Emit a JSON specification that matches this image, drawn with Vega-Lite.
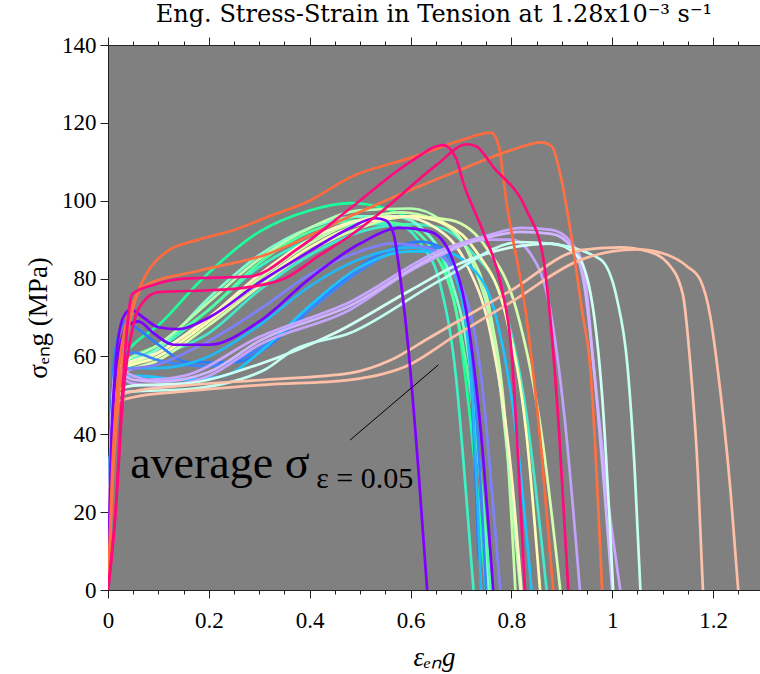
{
"$schema": "https://vega.github.io/schema/vega-lite/v6.json",
"width": 652, "height": 545,
"autosize": {"type": "none"},
"padding": {"left": 108, "top": 45, "right": 0, "bottom": 84},
"background": "white",
"view": {"fill": "#808080", "stroke": null},
"title": {"text": "Eng. Stress-Strain in Tension at 1.28x10⁻³ s⁻¹", "font": "DejaVu Serif", "fontSize": 24, "fontWeight": "normal", "color": "black", "anchor": "middle", "offset": 7},
"config": {"axis": {"labelFont": "Liberation Serif", "labelFontSize": 23, "labelColor": "black", "titleFont": "Liberation Serif", "titleColor": "black", "titleFontWeight": "normal", "domainColor": "#222", "tickColor": "#222", "grid": false, "domainWidth": 1, "tickWidth": 1}},
"datasets": {
"curves": [
{"c":"g1","x":0,"y":0},{"c":"g1","x":0.006,"y":40},{"c":"g1","x":0.02,"y":58},{"c":"g1","x":0.05,"y":63},{"c":"g1","x":0.1,"y":68},{"c":"g1","x":0.18,"y":79},{"c":"g1","x":0.3,"y":92},{"c":"g1","x":0.4,"y":97.5},{"c":"g1","x":0.48,"y":99.4},{"c":"g1","x":0.55,"y":98},{"c":"g1","x":0.62,"y":93},{"c":"g1","x":0.66,"y":86},{"c":"g1","x":0.69,"y":72},{"c":"g1","x":0.72,"y":42},{"c":"g1","x":0.75,"y":0},
{"c":"t1","x":0,"y":0},{"c":"t1","x":0.006,"y":40},{"c":"t1","x":0.02,"y":57},{"c":"t1","x":0.1,"y":62},{"c":"t1","x":0.2,"y":72},{"c":"t1","x":0.3,"y":83},{"c":"t1","x":0.4,"y":90},{"c":"t1","x":0.5,"y":94},{"c":"t1","x":0.57,"y":94},{"c":"t1","x":0.62,"y":89},{"c":"t1","x":0.66,"y":78},{"c":"t1","x":0.69,"y":55},{"c":"t1","x":0.71,"y":25},{"c":"t1","x":0.725,"y":0},
{"c":"t2","x":0,"y":0},{"c":"t2","x":0.006,"y":40},{"c":"t2","x":0.02,"y":56},{"c":"t2","x":0.1,"y":60},{"c":"t2","x":0.2,"y":66},{"c":"t2","x":0.3,"y":77},{"c":"t2","x":0.4,"y":86},{"c":"t2","x":0.5,"y":92},{"c":"t2","x":0.6,"y":94},{"c":"t2","x":0.66,"y":93},{"c":"t2","x":0.72,"y":87},{"c":"t2","x":0.78,"y":75},{"c":"t2","x":0.83,"y":45},{"c":"t2","x":0.87,"y":0},
{"c":"a1","x":0,"y":0},{"c":"a1","x":0.006,"y":40},{"c":"a1","x":0.02,"y":56},{"c":"a1","x":0.1,"y":62},{"c":"a1","x":0.2,"y":75},{"c":"a1","x":0.3,"y":86},{"c":"a1","x":0.4,"y":93},{"c":"a1","x":0.5,"y":96},{"c":"a1","x":0.57,"y":96},{"c":"a1","x":0.63,"y":92},{"c":"a1","x":0.68,"y":80},{"c":"a1","x":0.72,"y":55},{"c":"a1","x":0.755,"y":0},
{"c":"g2","x":0,"y":0},{"c":"g2","x":0.006,"y":40},{"c":"g2","x":0.02,"y":57},{"c":"g2","x":0.1,"y":63},{"c":"g2","x":0.2,"y":72},{"c":"g2","x":0.3,"y":84},{"c":"g2","x":0.4,"y":92},{"c":"g2","x":0.5,"y":95},{"c":"g2","x":0.58,"y":94},{"c":"g2","x":0.64,"y":88},{"c":"g2","x":0.69,"y":72},{"c":"g2","x":0.73,"y":40},{"c":"g2","x":0.76,"y":0},
{"c":"lg1","x":0,"y":0},{"c":"lg1","x":0.006,"y":40},{"c":"lg1","x":0.02,"y":56},{"c":"lg1","x":0.1,"y":61},{"c":"lg1","x":0.2,"y":70},{"c":"lg1","x":0.3,"y":80},{"c":"lg1","x":0.4,"y":89},{"c":"lg1","x":0.5,"y":95},{"c":"lg1","x":0.58,"y":97},{"c":"lg1","x":0.65,"y":95},{"c":"lg1","x":0.71,"y":88},{"c":"lg1","x":0.76,"y":70},{"c":"lg1","x":0.79,"y":40},{"c":"lg1","x":0.808,"y":0},
{"c":"lg2","x":0,"y":0},{"c":"lg2","x":0.006,"y":40},{"c":"lg2","x":0.02,"y":57},{"c":"lg2","x":0.1,"y":63},{"c":"lg2","x":0.2,"y":74},{"c":"lg2","x":0.3,"y":85},{"c":"lg2","x":0.4,"y":93},{"c":"lg2","x":0.5,"y":97.5},{"c":"lg2","x":0.6,"y":98},{"c":"lg2","x":0.66,"y":95},{"c":"lg2","x":0.72,"y":85},{"c":"lg2","x":0.77,"y":60},{"c":"lg2","x":0.8,"y":25},{"c":"lg2","x":0.818,"y":0},
{"c":"lg3","x":0,"y":0},{"c":"lg3","x":0.006,"y":40},{"c":"lg3","x":0.02,"y":55},{"c":"lg3","x":0.1,"y":59},{"c":"lg3","x":0.2,"y":68},{"c":"lg3","x":0.3,"y":78},{"c":"lg3","x":0.4,"y":87},{"c":"lg3","x":0.5,"y":93},{"c":"lg3","x":0.6,"y":96},{"c":"lg3","x":0.68,"y":95},{"c":"lg3","x":0.75,"y":88},{"c":"lg3","x":0.81,"y":72},{"c":"lg3","x":0.86,"y":40},{"c":"lg3","x":0.897,"y":0},
{"c":"ly1","x":0,"y":0},{"c":"ly1","x":0.006,"y":40},{"c":"ly1","x":0.02,"y":56},{"c":"ly1","x":0.1,"y":60},{"c":"ly1","x":0.2,"y":69},{"c":"ly1","x":0.3,"y":79},{"c":"ly1","x":0.4,"y":88},{"c":"ly1","x":0.5,"y":94},{"c":"ly1","x":0.6,"y":96},{"c":"ly1","x":0.67,"y":94},{"c":"ly1","x":0.73,"y":87},{"c":"ly1","x":0.79,"y":70},{"c":"ly1","x":0.83,"y":40},{"c":"ly1","x":0.857,"y":0},
{"c":"ly2","x":0,"y":0},{"c":"ly2","x":0.006,"y":40},{"c":"ly2","x":0.02,"y":57},{"c":"ly2","x":0.1,"y":61},{"c":"ly2","x":0.2,"y":70},{"c":"ly2","x":0.3,"y":81},{"c":"ly2","x":0.4,"y":90},{"c":"ly2","x":0.5,"y":95},{"c":"ly2","x":0.58,"y":96},{"c":"ly2","x":0.65,"y":93},{"c":"ly2","x":0.71,"y":84},{"c":"ly2","x":0.76,"y":65},{"c":"ly2","x":0.8,"y":30},{"c":"ly2","x":0.82,"y":0},
{"c":"b1","x":0,"y":0},{"c":"b1","x":0.005,"y":40},{"c":"b1","x":0.015,"y":62},{"c":"b1","x":0.035,"y":69},{"c":"b1","x":0.06,"y":67},{"c":"b1","x":0.1,"y":63},{"c":"b1","x":0.16,"y":58.5},{"c":"b1","x":0.25,"y":58.5},{"c":"b1","x":0.3,"y":61},{"c":"b1","x":0.35,"y":66},{"c":"b1","x":0.45,"y":78},{"c":"b1","x":0.55,"y":87},{"c":"b1","x":0.62,"y":89.5},{"c":"b1","x":0.66,"y":88},{"c":"b1","x":0.69,"y":82},{"c":"b1","x":0.715,"y":65},{"c":"b1","x":0.735,"y":8},
{"c":"b2","x":0,"y":0},{"c":"b2","x":0.006,"y":42},{"c":"b2","x":0.02,"y":60},{"c":"b2","x":0.05,"y":61},{"c":"b2","x":0.1,"y":59},{"c":"b2","x":0.2,"y":57.5},{"c":"b2","x":0.3,"y":62},{"c":"b2","x":0.4,"y":72},{"c":"b2","x":0.5,"y":82},{"c":"b2","x":0.6,"y":88},{"c":"b2","x":0.65,"y":88},{"c":"b2","x":0.69,"y":82},{"c":"b2","x":0.72,"y":62},{"c":"b2","x":0.74,"y":25},{"c":"b2","x":0.75,"y":0},
{"c":"lb1","x":0,"y":0},{"c":"lb1","x":0.006,"y":40},{"c":"lb1","x":0.02,"y":55},{"c":"lb1","x":0.06,"y":55},{"c":"lb1","x":0.15,"y":54},{"c":"lb1","x":0.23,"y":55},{"c":"lb1","x":0.3,"y":61},{"c":"lb1","x":0.4,"y":73},{"c":"lb1","x":0.5,"y":83},{"c":"lb1","x":0.6,"y":87},{"c":"lb1","x":0.66,"y":87},{"c":"lb1","x":0.72,"y":83},{"c":"lb1","x":0.77,"y":70},{"c":"lb1","x":0.81,"y":40},{"c":"lb1","x":0.84,"y":0},
{"c":"lb2","x":0,"y":0},{"c":"lb2","x":0.006,"y":40},{"c":"lb2","x":0.02,"y":57},{"c":"lb2","x":0.1,"y":57},{"c":"lb2","x":0.2,"y":60},{"c":"lb2","x":0.3,"y":68},{"c":"lb2","x":0.4,"y":78},{"c":"lb2","x":0.5,"y":85},{"c":"lb2","x":0.6,"y":88},{"c":"lb2","x":0.65,"y":87},{"c":"lb2","x":0.69,"y":80},{"c":"lb2","x":0.72,"y":55},{"c":"lb2","x":0.74,"y":0},
{"c":"pw","x":0,"y":0},{"c":"pw","x":0.006,"y":40},{"c":"pw","x":0.02,"y":56},{"c":"pw","x":0.1,"y":58},{"c":"pw","x":0.2,"y":64},{"c":"pw","x":0.3,"y":72},{"c":"pw","x":0.4,"y":81},{"c":"pw","x":0.5,"y":87},{"c":"pw","x":0.56,"y":89},{"c":"pw","x":0.63,"y":88},{"c":"pw","x":0.69,"y":81},{"c":"pw","x":0.74,"y":55},{"c":"pw","x":0.765,"y":20},{"c":"pw","x":0.778,"y":0},
{"c":"lav1","x":0,"y":0},{"c":"lav1","x":0.005,"y":35},{"c":"lav1","x":0.015,"y":57},{"c":"lav1","x":0.05,"y":55},{"c":"lav1","x":0.08,"y":54},{"c":"lav1","x":0.15,"y":55},{"c":"lav1","x":0.3,"y":65},{"c":"lav1","x":0.48,"y":74},{"c":"lav1","x":0.66,"y":87.3},{"c":"lav1","x":0.75,"y":91},{"c":"lav1","x":0.82,"y":93},{"c":"lav1","x":0.88,"y":92.5},{"c":"lav1","x":0.92,"y":89},{"c":"lav1","x":0.943,"y":83},{"c":"lav1","x":0.963,"y":58},{"c":"lav1","x":0.99,"y":25},{"c":"lav1","x":1.016,"y":0},
{"c":"lav2","x":0,"y":0},{"c":"lav2","x":0.005,"y":35},{"c":"lav2","x":0.015,"y":55},{"c":"lav2","x":0.05,"y":53},{"c":"lav2","x":0.1,"y":52.5},{"c":"lav2","x":0.2,"y":55},{"c":"lav2","x":0.3,"y":63},{"c":"lav2","x":0.48,"y":72},{"c":"lav2","x":0.6,"y":82},{"c":"lav2","x":0.66,"y":86},{"c":"lav2","x":0.75,"y":90},{"c":"lav2","x":0.8,"y":90},{"c":"lav2","x":0.84,"y":86},{"c":"lav2","x":0.877,"y":72},{"c":"lav2","x":0.905,"y":45},{"c":"lav2","x":0.936,"y":0},
{"c":"lav3","x":0,"y":0},{"c":"lav3","x":0.005,"y":35},{"c":"lav3","x":0.015,"y":56},{"c":"lav3","x":0.05,"y":54},{"c":"lav3","x":0.1,"y":53.5},{"c":"lav3","x":0.2,"y":56},{"c":"lav3","x":0.3,"y":64},{"c":"lav3","x":0.48,"y":73},{"c":"lav3","x":0.66,"y":86.5},{"c":"lav3","x":0.75,"y":90.5},{"c":"lav3","x":0.82,"y":92},{"c":"lav3","x":0.88,"y":91.5},{"c":"lav3","x":0.92,"y":88},{"c":"lav3","x":0.945,"y":78},{"c":"lav3","x":0.965,"y":55},{"c":"lav3","x":0.985,"y":25},{"c":"lav3","x":1.0,"y":0},
{"c":"c1","x":0,"y":0},{"c":"c1","x":0.005,"y":30},{"c":"c1","x":0.015,"y":51},{"c":"c1","x":0.05,"y":52.5},{"c":"c1","x":0.15,"y":53},{"c":"c1","x":0.3,"y":58},{"c":"c1","x":0.45,"y":66},{"c":"c1","x":0.6,"y":77},{"c":"c1","x":0.7,"y":84},{"c":"c1","x":0.8,"y":88},{"c":"c1","x":0.88,"y":89},{"c":"c1","x":0.93,"y":86},{"c":"c1","x":0.96,"y":74},{"c":"c1","x":0.98,"y":50},{"c":"c1","x":1.002,"y":0},
{"c":"c2","x":0,"y":0},{"c":"c2","x":0.005,"y":30},{"c":"c2","x":0.015,"y":50},{"c":"c2","x":0.05,"y":51},{"c":"c2","x":0.15,"y":51.5},{"c":"c2","x":0.31,"y":56.5},{"c":"c2","x":0.367,"y":61.6},{"c":"c2","x":0.48,"y":66},{"c":"c2","x":0.66,"y":79.6},{"c":"c2","x":0.817,"y":89.4},{"c":"c2","x":0.877,"y":89},{"c":"c2","x":0.976,"y":85},{"c":"c2","x":1.01,"y":74.5},{"c":"c2","x":1.03,"y":58},{"c":"c2","x":1.045,"y":30},{"c":"c2","x":1.056,"y":0},
{"c":"pe1","x":0,"y":0},{"c":"pe1","x":0.005,"y":30},{"c":"pe1","x":0.015,"y":49.6},{"c":"pe1","x":0.05,"y":51},{"c":"pe1","x":0.15,"y":52.5},{"c":"pe1","x":0.31,"y":54},{"c":"pe1","x":0.48,"y":55.7},{"c":"pe1","x":0.56,"y":59},{"c":"pe1","x":0.64,"y":65},{"c":"pe1","x":0.8,"y":77},{"c":"pe1","x":0.937,"y":87.3},{"c":"pe1","x":1.016,"y":88},{"c":"pe1","x":1.07,"y":87},{"c":"pe1","x":1.11,"y":84},{"c":"pe1","x":1.14,"y":76},{"c":"pe1","x":1.155,"y":58},{"c":"pe1","x":1.17,"y":30},{"c":"pe1","x":1.18,"y":0},
{"c":"pe2","x":0,"y":0},{"c":"pe2","x":0.005,"y":30},{"c":"pe2","x":0.015,"y":48},{"c":"pe2","x":0.05,"y":49.5},{"c":"pe2","x":0.15,"y":51},{"c":"pe2","x":0.31,"y":52.7},{"c":"pe2","x":0.48,"y":54},{"c":"pe2","x":0.6,"y":58},{"c":"pe2","x":0.685,"y":65},{"c":"pe2","x":0.8,"y":74},{"c":"pe2","x":0.937,"y":84.8},{"c":"pe2","x":1.0,"y":87},{"c":"pe2","x":1.05,"y":87.5},{"c":"pe2","x":1.1,"y":86.5},{"c":"pe2","x":1.15,"y":83},{"c":"pe2","x":1.175,"y":79.6},{"c":"pe2","x":1.195,"y":70},{"c":"pe2","x":1.208,"y":58},{"c":"pe2","x":1.235,"y":25},{"c":"pe2","x":1.25,"y":0},
{"c":"p1","x":0,"y":0},{"c":"p1","x":0.006,"y":35},{"c":"p1","x":0.015,"y":58},{"c":"p1","x":0.03,"y":70},{"c":"p1","x":0.045,"y":72},{"c":"p1","x":0.07,"y":70},{"c":"p1","x":0.1,"y":67.5},{"c":"p1","x":0.14,"y":67},{"c":"p1","x":0.2,"y":70},{"c":"p1","x":0.3,"y":79},{"c":"p1","x":0.4,"y":87},{"c":"p1","x":0.48,"y":93},{"c":"p1","x":0.53,"y":95.5},{"c":"p1","x":0.55,"y":95},{"c":"p1","x":0.566,"y":91.7},{"c":"p1","x":0.58,"y":80},{"c":"p1","x":0.595,"y":63},{"c":"p1","x":0.615,"y":32},{"c":"p1","x":0.633,"y":0},
{"c":"p2","x":0,"y":0},{"c":"p2","x":0.006,"y":35},{"c":"p2","x":0.02,"y":60},{"c":"p2","x":0.04,"y":68},{"c":"p2","x":0.06,"y":69},{"c":"p2","x":0.09,"y":66},{"c":"p2","x":0.13,"y":63},{"c":"p2","x":0.2,"y":63},{"c":"p2","x":0.3,"y":69},{"c":"p2","x":0.4,"y":80},{"c":"p2","x":0.5,"y":89},{"c":"p2","x":0.58,"y":93},{"c":"p2","x":0.64,"y":92},{"c":"p2","x":0.68,"y":86},{"c":"p2","x":0.71,"y":72},{"c":"p2","x":0.74,"y":40},{"c":"p2","x":0.764,"y":0},
{"c":"oa","x":0,"y":0},{"c":"oa","x":0.008,"y":30},{"c":"oa","x":0.02,"y":55},{"c":"oa","x":0.035,"y":68},{"c":"oa","x":0.054,"y":75},{"c":"oa","x":0.08,"y":82},{"c":"oa","x":0.117,"y":87},{"c":"oa","x":0.18,"y":90},{"c":"oa","x":0.25,"y":92.5},{"c":"oa","x":0.32,"y":96},{"c":"oa","x":0.4,"y":100},{"c":"oa","x":0.48,"y":106},{"c":"oa","x":0.6,"y":111},{"c":"oa","x":0.7,"y":115.5},{"c":"oa","x":0.76,"y":117.5},{"c":"oa","x":0.775,"y":114},{"c":"oa","x":0.79,"y":100},{"c":"oa","x":0.83,"y":70},{"c":"oa","x":0.86,"y":35},{"c":"oa","x":0.883,"y":0},
{"c":"ob","x":0,"y":0},{"c":"ob","x":0.01,"y":30},{"c":"ob","x":0.025,"y":55},{"c":"ob","x":0.045,"y":70},{"c":"ob","x":0.07,"y":78},{"c":"ob","x":0.18,"y":82},{"c":"ob","x":0.31,"y":86},{"c":"ob","x":0.48,"y":96},{"c":"ob","x":0.55,"y":100},{"c":"ob","x":0.7,"y":108},{"c":"ob","x":0.8,"y":113},{"c":"ob","x":0.86,"y":115},{"c":"ob","x":0.88,"y":114},{"c":"ob","x":0.9,"y":105},{"c":"ob","x":0.92,"y":90},{"c":"ob","x":0.94,"y":72},{"c":"ob","x":0.956,"y":58},{"c":"ob","x":0.98,"y":0},
{"c":"pk1","x":0,"y":0},{"c":"pk1","x":0.015,"y":20},{"c":"pk1","x":0.028,"y":50},{"c":"pk1","x":0.048,"y":76},{"c":"pk1","x":0.093,"y":78.5},{"c":"pk1","x":0.15,"y":80},{"c":"pk1","x":0.28,"y":80.5},{"c":"pk1","x":0.38,"y":88},{"c":"pk1","x":0.48,"y":98},{"c":"pk1","x":0.6,"y":110},{"c":"pk1","x":0.665,"y":114.3},{"c":"pk1","x":0.69,"y":111},{"c":"pk1","x":0.705,"y":104.5},{"c":"pk1","x":0.745,"y":91.7},{"c":"pk1","x":0.78,"y":78},{"c":"pk1","x":0.8,"y":61.6},{"c":"pk1","x":0.815,"y":30},{"c":"pk1","x":0.827,"y":0},
{"c":"pk2","x":0,"y":0},{"c":"pk2","x":0.015,"y":20},{"c":"pk2","x":0.03,"y":50},{"c":"pk2","x":0.05,"y":68},{"c":"pk2","x":0.07,"y":74},{"c":"pk2","x":0.1,"y":76.5},{"c":"pk2","x":0.2,"y":77},{"c":"pk2","x":0.26,"y":77.5},{"c":"pk2","x":0.35,"y":80},{"c":"pk2","x":0.42,"y":86},{"c":"pk2","x":0.48,"y":91},{"c":"pk2","x":0.55,"y":98},{"c":"pk2","x":0.65,"y":109},{"c":"pk2","x":0.712,"y":114.5},{"c":"pk2","x":0.73,"y":114},{"c":"pk2","x":0.764,"y":108.7},{"c":"pk2","x":0.83,"y":97.6},{"c":"pk2","x":0.863,"y":85.5},{"c":"pk2","x":0.877,"y":70},{"c":"pk2","x":0.895,"y":40},{"c":"pk2","x":0.913,"y":0}
],
"ann": [{"x": 0.48, "y": 38.5, "x2": 0.655, "y2": 57.8}],
"lbl": [{"x": 0.044, "y": 28.8, "t": "average σ"}],
"sub": [{"x": 0.413, "y": 26.2, "t": "ε = 0.05"}]
},
"layer": [
{"data": {"name": "curves"},
 "mark": {"type": "line", "strokeWidth": 2.7, "interpolate": "monotone", "clip": true},
 "encoding": {
  "x": {"field": "x", "type": "quantitative", "scale": {"domain": [0, 1.2932], "nice": false, "zero": false},
   "axis": {"orient": "bottom", "values": [0,0.05,0.1,0.15,0.2,0.25,0.3,0.35,0.4,0.45,0.5,0.55,0.6,0.65,0.7,0.75,0.8,0.85,0.9,0.95,1,1.05,1.1,1.15,1.2,1.25],
    "labelExpr": "round(datum.value*100) % 20 == 0 ? toString(round(datum.value*10)/10) : ''",
    "tickSize": {"condition": {"test": "round(datum.value*100) % 20 == 0", "value": 8}, "value": 4},
    "labelPadding": 11, "labelFlush": false, "title": "εₑₙg", "titleFontStyle": "italic", "titleFontSize": 27, "titlePadding": 12}},
  "y": {"field": "y", "type": "quantitative", "scale": {"domain": [0, 140], "nice": false},
   "axis": {"orient": "left", "values": [0,5,10,15,20,25,30,35,40,45,50,55,60,65,70,75,80,85,90,95,100,105,110,115,120,125,130,135,140],
    "labelExpr": "datum.value % 20 == 0 ? toString(datum.value) : ''",
    "tickSize": {"condition": {"test": "datum.value % 20 == 0", "value": 8}, "value": 4},
    "labelPadding": 4, "labelFlush": false, "title": "σₑₙg (MPa)", "titleFontSize": 27, "titlePadding": 9}},
  "color": {"field": "c", "type": "nominal", "legend": null,
   "scale": {"domain": ["g1","t1","t2","a1","g2","lg1","lg2","lg3","ly1","ly2","b1","b2","lb1","lb2","pw","lav1","lav2","lav3","c1","c2","pe1","pe2","p1","p2","oa","ob","pk1","pk2"],
    "range": ["#1aff9c","#3df2c6","#45e8c8","#7dffcf","#50ffa0","#c5ffa6","#b5ffb0","#d5ffac","#ffffb3","#fff5c2","#2b7bff","#3a86ff","#1cc4ff","#22b8f5","#8080ff","#c8a6ff","#c3a3fb","#d0b4ff","#d0fff4","#c2fff0","#ffc3ab","#ffbfa6","#8000ff","#7a00ff","#ff6a3d","#ff7043","#ff0a80","#ff0a7a"]}}
 }},
{"mark": {"type": "rule", "strokeDash": [10, 4, 2, 4], "color": "#111", "strokeWidth": 1},
 "encoding": {"y": {"datum": 58.3, "type": "quantitative"}}},
{"data": {"name": "ann"},
 "mark": {"type": "rule", "color": "black", "strokeWidth": 1},
 "encoding": {
  "x": {"field": "x", "type": "quantitative",
   "axis": {"orient": "top", "values": [0,0.05,0.1,0.15,0.2,0.25,0.3,0.35,0.4,0.45,0.5,0.55,0.6,0.65,0.7,0.75,0.8,0.85,0.9,0.95,1,1.05,1.1,1.15,1.2,1.25],
    "labels": false, "title": null,
    "tickSize": {"condition": {"test": "round(datum.value*100) % 20 == 0", "value": 8}, "value": 4}}},
  "y": {"field": "y", "type": "quantitative"},
  "x2": {"field": "x2"}, "y2": {"field": "y2"}}},
{"data": {"name": "lbl"},
 "mark": {"type": "text", "font": "Liberation Serif", "fontSize": 46, "align": "left", "baseline": "alphabetic", "color": "black"},
 "encoding": {"x": {"field": "x", "type": "quantitative", "axis": null}, "y": {"field": "y", "type": "quantitative"}, "text": {"field": "t"}}},
{"data": {"name": "sub"},
 "mark": {"type": "text", "font": "Liberation Serif", "fontSize": 30, "align": "left", "baseline": "alphabetic", "color": "black"},
 "encoding": {"x": {"field": "x", "type": "quantitative", "axis": null}, "y": {"field": "y", "type": "quantitative"}, "text": {"field": "t"}}}
],
"resolve": {"axis": {"x": "independent"}}
}
